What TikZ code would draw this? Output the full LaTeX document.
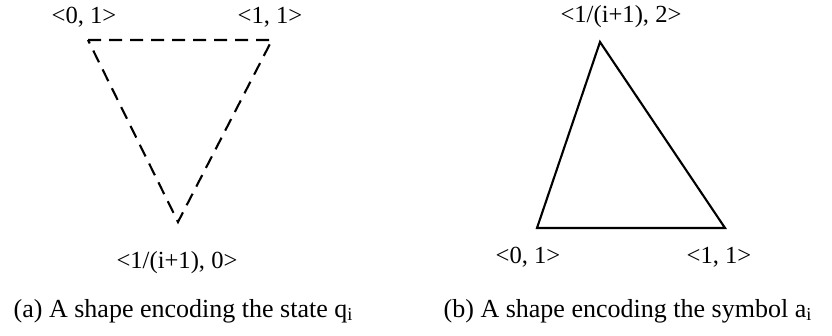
\documentclass[tikz,border=0pt]{standalone}
\usepackage{fontspec}
\setmainfont{Liberation Serif}
\usepackage{tikz}
\usetikzlibrary{positioning}

\begin{document}
\begin{tikzpicture}[every node/.style={font=\fontsize{7}{8}\selectfont, inner sep=0pt}]
        \useasboundingbox (0,0) rectangle (8.32,3.36);
        % (a) state shape
        \coordinate (qleft) at (0.88,2.96);
        \coordinate (qright) at (2.72,2.96);
        \coordinate (qbottom) at (1.78,1.14);
        \draw[line width=0.6pt, dash pattern=on 0.13cm off 0.08cm] (qleft) -- (qright) -- (qbottom) -- cycle;
        \node (qlabl) at (0.84,3.19) {<0, 1>};
        \node (qlabr) at (2.70,3.19) {<1, 1>};
        \node (qlabb) at (1.77,0.73) {<1/(i+1), 0>};
        % (b) symbol shape
        \coordinate (atop) at (6.00,2.94);
        \coordinate (aleft) at (5.37,1.08);
        \coordinate (aright) at (7.25,1.08);
        \draw[line width=0.6pt] (atop) -- (aright) -- (aleft) -- cycle;
        \node (alabt) at (6.21,3.19) {<1/(i+1), 2>};
        \node (alabl) at (5.28,0.79) {<0, 1>};
        \node (alabr) at (7.19,0.79) {<1, 1>};
        % captions
        \node[anchor=west, font=\fontsize{7.4}{9}\selectfont] (capa) at (0.13,0.25) {(a) A shape encoding the state q\textsubscript{i}};
        \node[anchor=west, font=\fontsize{7.4}{9}\selectfont] (capb) at (4.43,0.25) {(b) A shape encoding the symbol a\textsubscript{i}};
      \end{tikzpicture}
\end{document}
